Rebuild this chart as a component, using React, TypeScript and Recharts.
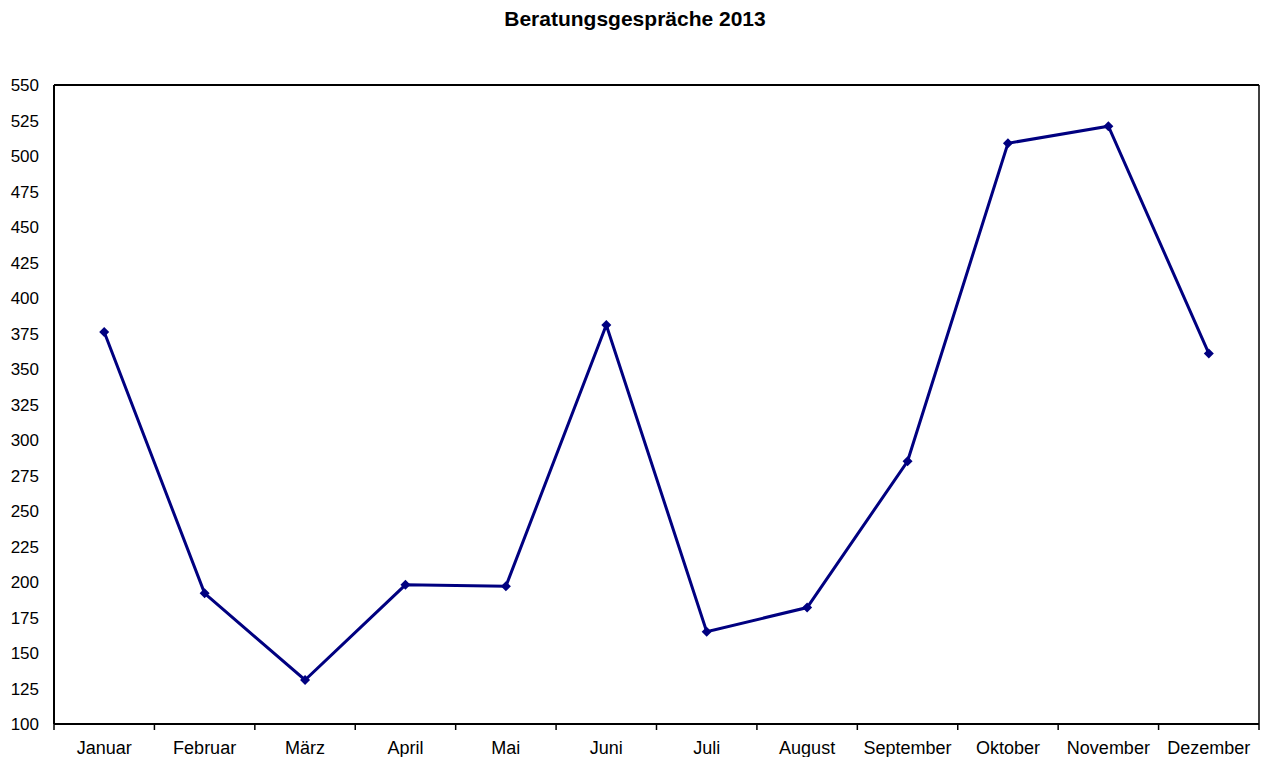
import { LineChart, Line, XAxis, YAxis } from 'recharts';

const months = ['Januar', 'Februar', 'März', 'April', 'Mai', 'Juni', 'Juli', 'August', 'September', 'Oktober', 'November', 'Dezember'];
const gespraeche = [376, 192, 131, 198, 197, 381, 165, 182, 285, 509, 521, 361];
const yTicks = [100, 125, 150, 175, 200, 225, 250, 275, 300, 325, 350, 375, 400, 425, 450, 475, 500, 525, 550];
const edgeTicks = [0, 1, 2, 3, 4, 5, 6, 7, 8, 9, 10, 11, 12];

const chartData = months.map((m, i) => ({ month: m, value: gespraeche[i] }));

const font = '"Liberation Sans", Arial, sans-serif';
const navy = '#000080';

const Diamond = (props: any) => {
	const { cx, cy } = props;
	if (cx == null || cy == null) return null;
	const r = 5;
	return <polygon points={`${cx},${cy - r} ${cx + r},${cy} ${cx},${cy + r} ${cx - r},${cy}`} fill={navy} />;
};

export default function App() {
	return (
		<div style={{ position: 'absolute', left: 0, top: 0, width: 1264, height: 757, background: '#fff', fontFamily: font }}>
			<div style={{ position: 'absolute', top: 7, left: 0, width: 1264, paddingLeft: 6, boxSizing: 'border-box', textAlign: 'center', fontWeight: 'bold', fontSize: 21, color: '#000' }}>
				Beratungsgespräche 2013
			</div>
			<LineChart width={1264} height={757} data={chartData} margin={{ top: 84, right: 4, left: 0, bottom: 0 }}>
				<XAxis xAxisId="cat" dataKey="month" scale="band" height={32} axisLine={false} tickLine={false} tickSize={0} tickMargin={16} tick={{ fill: '#000', fontSize: 18, fontFamily: font }} interval={0} />
				<XAxis xAxisId="a_edges" type="number" dataKey="edge" domain={[0, 12]} ticks={edgeTicks} interval={0} allowDataOverflow height={1} tickFormatter={() => ''} tickSize={6} tickLine={{ stroke: '#000', strokeWidth: 1.5 }} stroke="#000" strokeWidth={2} />
				<XAxis xAxisId="top" orientation="top" dataKey="month" height={1} tick={false} tickLine={false} stroke="#000" strokeWidth={2} />
				<YAxis domain={[100, 550]} ticks={yTicks} width={54} tickLine={false} tickSize={0} tickMargin={15} interval={0} stroke="#000" strokeWidth={2} tick={{ fill: '#000', fontSize: 17, fontFamily: font }} />
				<YAxis yAxisId="right" orientation="right" domain={[100, 550]} width={1} tick={false} tickLine={false} stroke="#000" strokeWidth={1.5} />
				<Line xAxisId="cat" type="linear" dataKey="value" stroke={navy} strokeWidth={3} dot={<Diamond />} activeDot={false} isAnimationActive={false} />
			</LineChart>
		</div>
	);
}
